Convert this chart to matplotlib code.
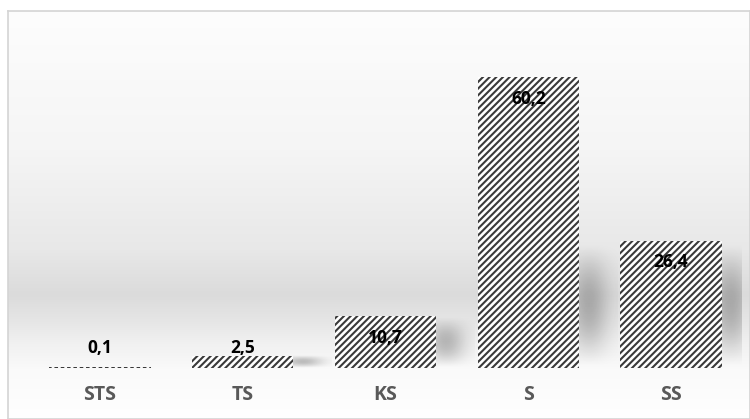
import numpy as np
import matplotlib
matplotlib.use("Agg")
import matplotlib.pyplot as plt

categories = ["STS", "TS", "KS", "S", "SS"]
values = [0.1, 2.5, 10.7, 60.2, 26.4]

plt.rcParams['font.family'] = ['Open Sans', 'DejaVu Sans']
plt.rcParams['hatch.linewidth'] = 1.5

fig = plt.figure(figsize=(7.5, 4.19), dpi=100)

# background panel with soft vertical gradient (rows from top to bottom)
bg = fig.add_axes([8 / 750, 0, 1 - 8 / 750, 408 / 419])
ys = np.array([11, 150, 250, 295, 320, 345, 370, 419])
gs = np.array([253, 245, 232, 219, 229, 241, 250, 255]) / 255
rows = np.arange(11, 420)
g = np.interp(rows, ys, gs)
img = np.repeat(g[:, None], 8, axis=1)
rgb = np.dstack([img, img, img])
bg.imshow(rgb, aspect='auto', extent=[0, 1, 0, 1], interpolation='nearest')
bg.set_xticks([])
bg.set_yticks([])
for s in bg.spines.values():
    s.set_color('#d4d4d4')
    s.set_linewidth(1.2)

ax = fig.add_axes([0.0381, 0.1217, 0.9517, 0.8067])
ax.patch.set_alpha(0)
x = np.arange(len(categories))

# soft shadows behind bars
for xi, h in zip(x, values):
    sh = min(h, 26.0)
    if sh < 1:
        continue
    nx, ny = 40, 40
    u = np.linspace(-1, 1, nx)
    v = np.linspace(0, 1, ny)
    U, V = np.meshgrid(u, v)
    a = np.exp(-(U * 1.5) ** 2) * np.sin(np.pi * V) ** 1.2 * 0.24
    rgba = np.zeros((ny, nx, 4))
    rgba[..., 3] = a
    ax.imshow(rgba, extent=[xi + 0.22, xi + 0.62, 0, sh], origin='lower',
              aspect='auto', zorder=1, interpolation='bilinear')

bars = ax.bar(x, values, width=0.71, color='white', edgecolor='#3a3a3a',
              linewidth=0, hatch='/////', zorder=2)
for b, h in zip(bars, values):
    if h < 0.5:
        b.set_linewidth(1.3)
        b.set_linestyle((0, (1.5, 2)))

for xi, h in zip(x, values):
    txt = ('%.1f' % h).replace('.', ',')
    if h > 8:
        ax.annotate(txt, (xi, h), xytext=(0, -15.5), textcoords='offset points',
                    ha='center', va='center', fontsize=12.5, fontweight='bold',
                    color='black', zorder=3)
    else:
        ax.annotate(txt, (xi, 0), xytext=(0, 14.5), textcoords='offset points',
                    ha='center', va='center', fontsize=12.5, fontweight='bold',
                    color='black', zorder=3)

ax.set_xlim(-0.5, 4.5)
ax.set_ylim(0, 70)
ax.set_xticks(x)
ax.set_xticklabels(categories, fontsize=14, fontweight='bold', color='#595959')
ax.tick_params(axis='x', length=0, pad=12)
ax.set_yticks([])
for s in ax.spines.values():
    s.set_visible(False)

fig.savefig('out.png', dpi=100)
